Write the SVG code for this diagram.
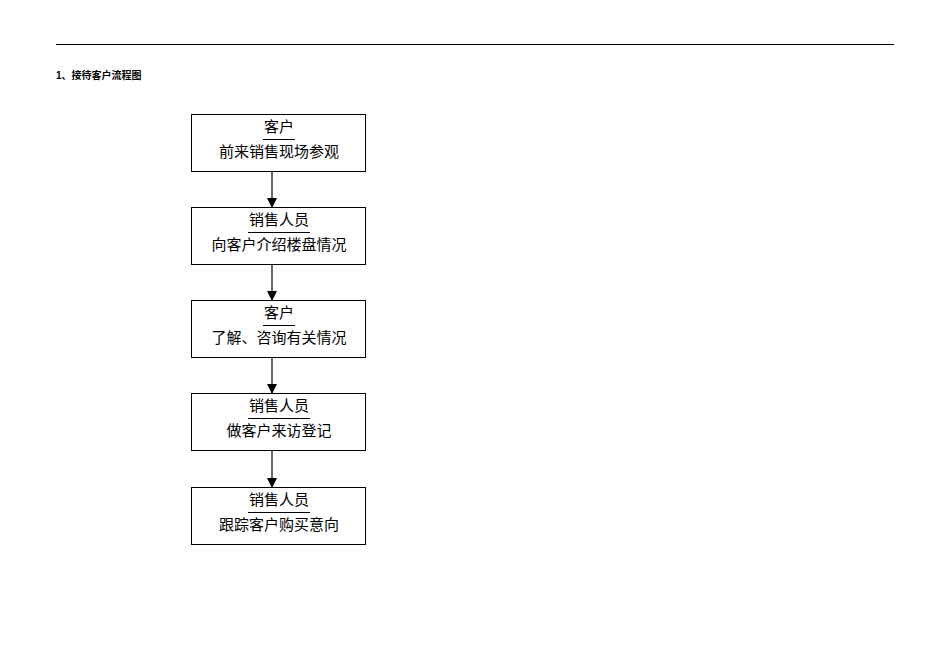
<svg xmlns="http://www.w3.org/2000/svg" width="950" height="672" viewBox="0 0 950 672">
<style>
.b{fill:#fff;stroke:#000;stroke-width:1}
.t{font-family:"Liberation Serif","Noto Sans CJK SC",serif;font-size:15px;text-anchor:middle;fill:#000}
.u{stroke:#000;stroke-width:1}
.c{stroke:#000;stroke-width:1.2;fill:none;marker-end:url(#a)}
</style>
<defs><marker id="a" markerWidth="10" markerHeight="10" refX="9" refY="5" orient="auto" markerUnits="userSpaceOnUse"><path d="M0,0L10,5L0,10z"/></marker></defs>
<rect width="950" height="672" fill="#fff"/>
<line x1="56" y1="44.5" x2="894" y2="44.5" stroke="#000" stroke-width="1"/>
<text x="56" y="79" font-family="'Liberation Sans','Noto Sans CJK SC',sans-serif" font-size="10" font-weight="bold">1、接待客户流程图</text>
<g id="n1"><rect class="b" x="191.5" y="114.5" width="174" height="57"/><text class="t" x="279" y="132">客户</text><line class="u" x1="263" y1="139.5" x2="295" y2="139.5"/><text class="t" x="279" y="157">前来销售现场参观</text></g>
<g id="n2"><rect class="b" x="191.5" y="207.5" width="174" height="57"/><text class="t" x="279" y="225">销售人员</text><line class="u" x1="248" y1="232.5" x2="310" y2="232.5"/><text class="t" x="279" y="250">向客户介绍楼盘情况</text></g>
<g id="n3"><rect class="b" x="191.5" y="300.5" width="174" height="57"/><text class="t" x="279" y="318">客户</text><line class="u" x1="263" y1="325.5" x2="295" y2="325.5"/><text class="t" x="279" y="343">了解、咨询有关情况</text></g>
<g id="n4"><rect class="b" x="191.5" y="393.5" width="174" height="57"/><text class="t" x="279" y="411">销售人员</text><line class="u" x1="248" y1="418.5" x2="310" y2="418.5"/><text class="t" x="279" y="436">做客户来访登记</text></g>
<g id="n5"><rect class="b" x="191.5" y="487.5" width="174" height="57"/><text class="t" x="279" y="505">销售人员</text><line class="u" x1="248" y1="512.5" x2="310" y2="512.5"/><text class="t" x="279" y="530">跟踪客户购买意向</text></g>
<g id="connectors">
<line class="c" x1="272" y1="172" x2="272" y2="207"/>
<line class="c" x1="272" y1="265" x2="272" y2="300"/>
<line class="c" x1="272" y1="358" x2="272" y2="393"/>
<line class="c" x1="272" y1="451" x2="272" y2="487"/>
</g>
</svg>
